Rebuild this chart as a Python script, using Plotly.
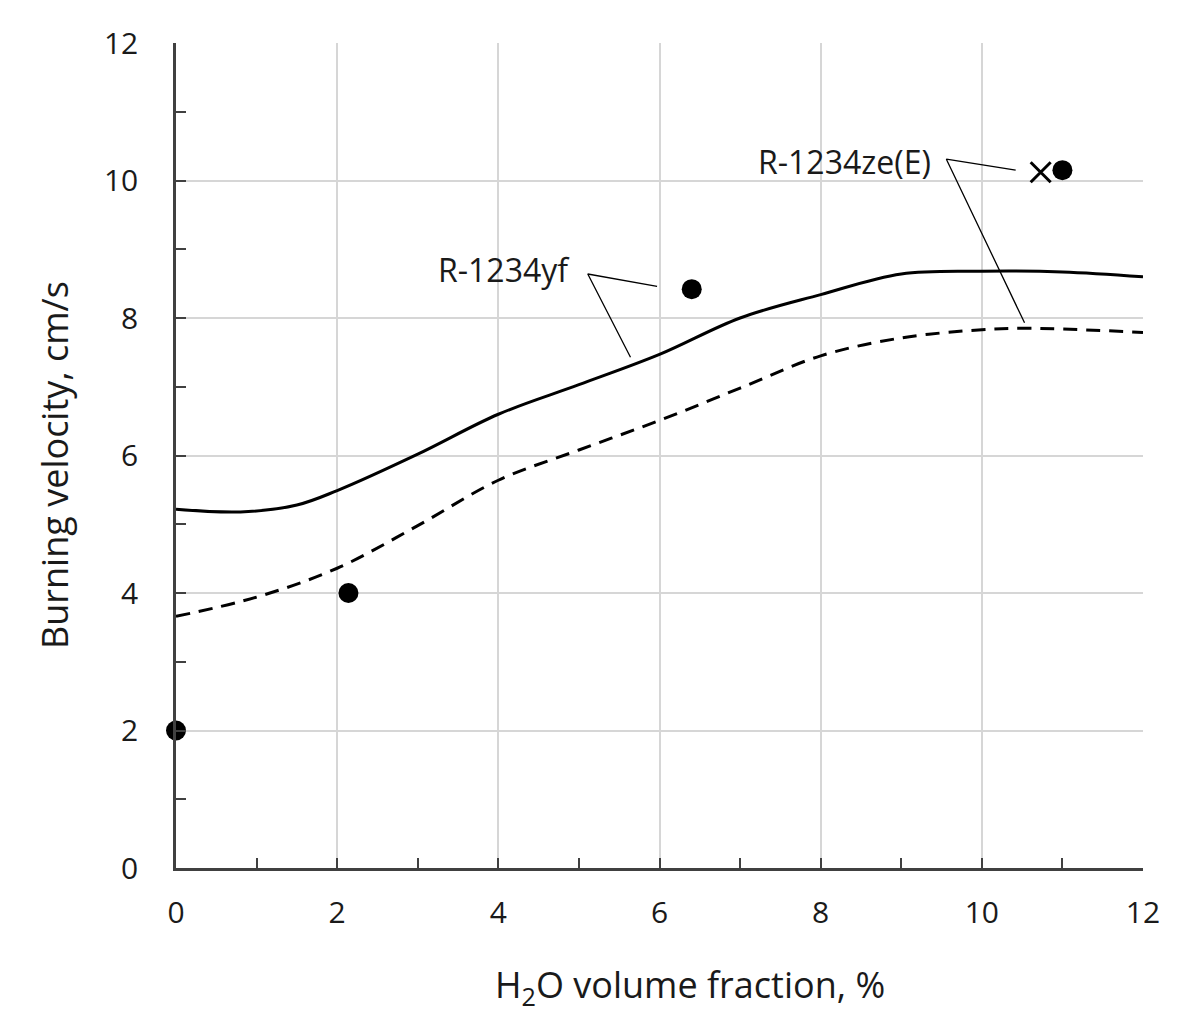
import plotly.graph_objects as go

# Model curves
x_curve = [0, 0.8, 1.5, 2, 3, 4, 5, 6, 7, 8, 9, 10, 11, 12]
yf_curve = [5.22, 5.18, 5.28, 5.49, 6.02, 6.6, 7.03, 7.47, 8.0, 8.34, 8.64, 8.68, 8.67, 8.6]
x_dash = [0, 1, 2, 3, 4, 5, 6, 7, 8, 9, 10, 10.5, 11, 12]
ze_curve = [3.66, 3.94, 4.36, 4.98, 5.64, 6.08, 6.51, 6.98, 7.45, 7.71, 7.83, 7.85, 7.84, 7.79]

# Experimental points
x_pts = [0, 2.14, 6.4, 11.0]
y_pts = [2.0, 4.0, 8.42, 10.15]
x_cross = [10.73]
y_cross = [10.12]

# Labels and leader lines
label_yf = "R-1234yf"
label_ze = "R-1234ze(E)"
yf_leader_x = [5.97, 5.11, 5.64]
yf_leader_y = [8.46, 8.64, 7.43]
ze_leader_x = [10.42, 9.56, 10.53]
ze_leader_y = [10.15, 10.31, 7.93]

x_title = "H<sub>2</sub>O volume fraction, %"
y_title = "Burning velocity, cm/s"

FONT = "Open Sans"
TXT = "#1a1a1a"

# page body has ~8px default margin; compensate
L, T, PW, PH = 168, 35, 967, 825

fig = go.Figure()
fig.add_trace(go.Scatter(x=x_curve, y=yf_curve, mode="lines", line=dict(color="black", width=3, shape="spline", smoothing=1.0), showlegend=False))
fig.add_trace(go.Scatter(x=x_dash, y=ze_curve, mode="lines", line=dict(color="black", width=3, dash="14px,9px", shape="spline", smoothing=1.0), showlegend=False))
fig.add_trace(go.Scatter(x=yf_leader_x, y=yf_leader_y, mode="lines", line=dict(color="black", width=1.3), showlegend=False))
fig.add_trace(go.Scatter(x=ze_leader_x, y=ze_leader_y, mode="lines", line=dict(color="black", width=1.3), showlegend=False))
fig.add_trace(go.Scatter(x=x_pts, y=y_pts, mode="markers", marker=dict(color="black", size=20, symbol="circle"), cliponaxis=False, showlegend=False))
fig.add_trace(go.Scatter(x=x_cross, y=y_cross, mode="markers", marker=dict(color="black", size=20, symbol="x-thin", line=dict(color="black", width=3)), cliponaxis=False, showlegend=False))

fig.add_annotation(x=4.92, y=8.70, text=label_yf, showarrow=False, xanchor="right", yanchor="middle", font=dict(family=FONT, size=32, color=TXT))
fig.add_annotation(x=9.39, y=10.27, text=label_ze, showarrow=False, xanchor="right", yanchor="middle", font=dict(family=FONT, size=32, color=TXT))

# Axis titles as paper annotations (reference pixel centres)
fig.add_annotation(xref="paper", yref="paper", x=(690 - 176) / PW, y=(868 - 986) / PH, text=x_title, showarrow=False,
                   xanchor="center", yanchor="middle", font=dict(family=FONT, size=36, color=TXT))
fig.add_annotation(xref="paper", yref="paper", x=(55 - 176) / PW, y=(868 - 465) / PH, text=y_title, showarrow=False,
                   textangle=-90, xanchor="center", yanchor="middle", font=dict(family=FONT, size=36, color=TXT))

fig.update_layout(
    width=1180, height=1014,
    margin=dict(l=L, r=1180 - L - PW, t=T, b=1014 - T - PH),
    paper_bgcolor="white", plot_bgcolor="white",
    font=dict(family=FONT, size=30, color=TXT),
)
common = dict(
    range=[0, 12], dtick=2, tick0=0, automargin=False,
    showgrid=True, gridcolor="#d6d6d6", gridwidth=2,
    showline=True, linecolor="#404040", linewidth=2.5,
    ticks="inside", ticklen=10, tickwidth=2, tickcolor="#404040",
    minor=dict(dtick=1, ticks="inside", ticklen=10, tickwidth=2, tickcolor="#404040", showgrid=False),
    zeroline=False, tickfont=dict(family=FONT, size=30, color=TXT),
)
fig.update_xaxes(**common, ticklabelstandoff=16)
fig.update_yaxes(**common, ticklabelstandoff=29)

fig.write_html("out.html")
